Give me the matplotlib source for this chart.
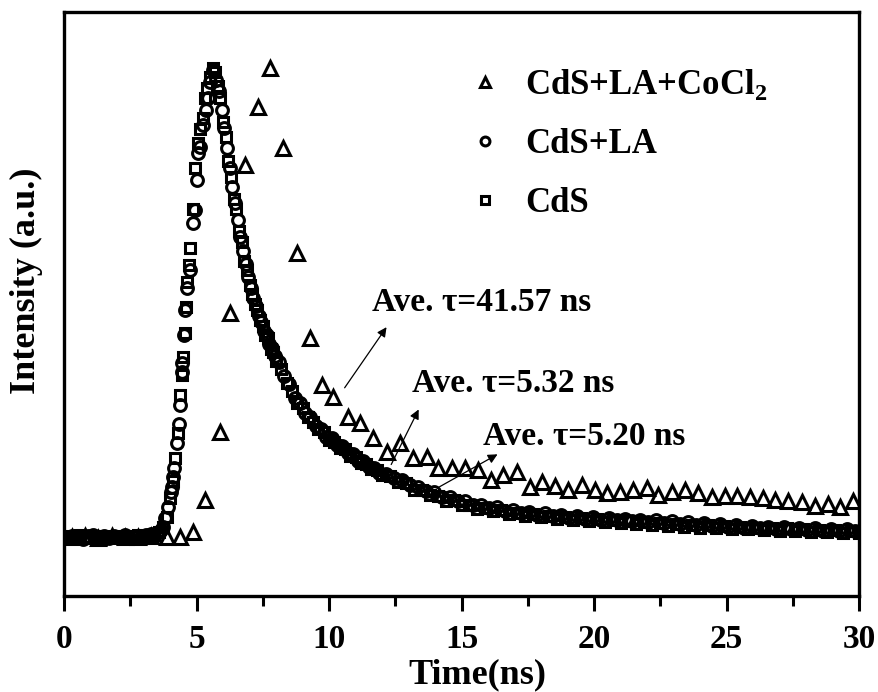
import numpy as np
import matplotlib
matplotlib.use('Agg')
import matplotlib.pyplot as plt
from matplotlib.ticker import MultipleLocator

plt.rcParams['font.family'] = 'Liberation Serif'
plt.rcParams['font.weight'] = 'bold'
plt.rcParams['mathtext.fontset'] = 'custom'
plt.rcParams['mathtext.rm'] = 'Liberation Serif:bold'
plt.rcParams['mathtext.bf'] = 'Liberation Serif:bold'

labels = ['CdS+LA+CoCl$_2$', 'CdS+LA', 'CdS']

# CdS+LA+CoCl2 (triangles)
tri_t = [0.3, 0.8, 1.3, 1.8, 2.3, 2.8, 3.3,
         3.9, 4.38, 4.87, 5.32, 5.89, 6.26, 6.83, 7.32, 7.77, 8.26,
         8.79, 9.28, 9.74, 10.15, 10.72, 11.17, 11.66, 12.19, 12.68, 13.17,
         13.70, 14.11, 14.64, 15.13, 15.62, 16.1, 16.57, 17.09, 17.58, 18.04,
         18.53, 19.02, 19.55, 20.04, 20.49, 20.98, 21.47, 22.0, 22.42, 22.94,
         23.43, 23.92, 24.45, 24.94, 25.4, 25.89, 26.38, 26.83, 27.32, 27.85,
         28.34, 28.83, 29.28, 29.77]
tri_y = [0.0, 0.002, -0.002, 0.001, 0.0, -0.001, 0.002,
         0.0, 0.0, 0.01, 0.079, 0.224, 0.478, 0.793, 0.917, 1.0, 0.829,
         0.606, 0.424, 0.324, 0.299, 0.256, 0.243, 0.211, 0.181, 0.200, 0.168,
         0.171, 0.147, 0.147, 0.147, 0.143, 0.122, 0.132, 0.139, 0.107, 0.117,
         0.109, 0.100, 0.111, 0.100, 0.094, 0.096, 0.100, 0.104, 0.090, 0.096,
         0.100, 0.094, 0.085, 0.087, 0.087, 0.085, 0.083, 0.079, 0.077, 0.075,
         0.066, 0.070, 0.064, 0.077]

# CdS+LA (circles)
cir_t = [0.1, 0.3, 0.5, 0.7, 0.9, 1.1, 1.3, 1.5, 1.7, 1.9, 2.1, 2.3, 2.5, 2.7, 2.9, 3.1, 3.3, 3.5,
         3.65, 3.74, 3.82, 3.92, 4.03, 4.08, 4.11, 4.15, 4.26, 4.33, 4.38, 4.45, 4.47, 4.52,
         4.57, 4.66, 4.75, 4.87, 4.94, 5.0, 5.06, 5.13, 5.25, 5.35, 5.43, 5.52, 5.62,
         5.75, 5.85, 5.95, 6.05, 6.15, 6.25, 6.35, 6.45, 6.55, 6.65, 6.75, 6.85, 6.95,
         7.05, 7.15, 7.25, 7.35, 7.45, 7.55, 7.65, 7.75, 7.85, 7.95,
         8.1, 8.3, 8.5, 8.7, 8.9, 9.1, 9.3, 9.5, 9.7, 9.9,
         10.1, 10.3, 10.5, 10.7, 10.9, 11.1, 11.3, 11.5, 11.7, 11.9,
         12.15, 12.45, 12.75, 13.05, 13.35, 13.65, 13.95, 14.25, 14.55, 14.85,
         15.15, 15.45, 15.75, 16.05, 16.35, 16.65, 16.95, 17.25, 17.55, 17.85,
         18.15, 18.45, 18.75, 19.05, 19.35, 19.65, 19.95, 20.25, 20.55, 20.85,
         21.15, 21.45, 21.75, 22.05, 22.35, 22.65, 22.95, 23.25, 23.55, 23.85,
         24.15, 24.45, 24.75, 25.05, 25.35, 25.65, 25.95, 26.25, 26.55, 26.85,
         27.15, 27.45, 27.75, 28.05, 28.35, 28.65, 28.95, 29.25, 29.55, 29.85]
cir_y = [-0.002, 0.003, 0.0, -0.004, 0.002, 0.004, -0.001, 0.001, -0.003, 0.003, 0.0, 0.004,
         -0.002, 0.001, -0.003, 0.004, 0.006, 0.008,
         0.015, 0.021, 0.04, 0.064, 0.095, 0.107, 0.128, 0.147, 0.2, 0.24, 0.281, 0.352, 0.371, 0.43,
         0.484, 0.53, 0.569, 0.67, 0.697, 0.76, 0.819, 0.832, 0.878, 0.91, 0.936, 0.97, 0.996,
         0.975, 0.95, 0.91, 0.872, 0.83, 0.786, 0.745, 0.712, 0.675, 0.64, 0.61, 0.582, 0.555,
         0.53, 0.51, 0.492, 0.47, 0.458, 0.44, 0.43, 0.412, 0.402, 0.385,
         0.372, 0.342, 0.326, 0.297, 0.286, 0.264, 0.256, 0.236, 0.231, 0.214,
         0.211, 0.195, 0.193, 0.178, 0.176, 0.162, 0.161, 0.148, 0.147, 0.136,
         0.134, 0.126, 0.121, 0.111, 0.107, 0.097, 0.095, 0.086, 0.085, 0.076,
         0.076, 0.068, 0.069, 0.061, 0.063, 0.056, 0.058, 0.051, 0.054, 0.047,
         0.05, 0.044, 0.047, 0.041, 0.045, 0.039, 0.043, 0.037, 0.041, 0.035,
         0.039, 0.033, 0.037, 0.031, 0.035, 0.029, 0.033, 0.027, 0.031, 0.025,
         0.029, 0.023, 0.027, 0.021, 0.026, 0.02, 0.024, 0.018, 0.022, 0.017,
         0.021, 0.016, 0.02, 0.014, 0.018, 0.013, 0.017, 0.012, 0.016, 0.012]

# CdS (squares)
sq_t = [0.0, 0.2, 0.4, 0.6, 0.8, 1.0, 1.2, 1.4, 1.6, 1.8, 2.0, 2.2, 2.4, 2.6, 2.8, 3.0, 3.2, 3.4,
        3.6, 3.75, 3.89, 4.0, 4.1, 4.2, 4.3, 4.38, 4.45, 4.49, 4.55, 4.6, 4.64, 4.7, 4.75,
        4.85, 4.94, 5.05, 5.15, 5.25, 5.32, 5.4, 5.5, 5.62,
        5.7, 5.8, 5.9, 6.0, 6.1, 6.2, 6.3, 6.4, 6.5, 6.6, 6.7, 6.8, 6.9, 7.0,
        7.1, 7.2, 7.3, 7.4, 7.5, 7.6, 7.7, 7.8, 7.9, 8.0,
        8.2, 8.4, 8.6, 8.8, 9.0, 9.2, 9.4, 9.6, 9.8, 10.0,
        10.2, 10.4, 10.6, 10.8, 11.0, 11.2, 11.4, 11.6, 11.8, 12.0,
        12.3, 12.6, 12.9, 13.2, 13.5, 13.8, 14.1, 14.4, 14.7, 15.0,
        15.3, 15.6, 15.9, 16.2, 16.5, 16.8, 17.1, 17.4, 17.7, 18.0,
        18.3, 18.6, 18.9, 19.2, 19.5, 19.8, 20.1, 20.4, 20.7, 21.0,
        21.3, 21.6, 21.9, 22.2, 22.5, 22.8, 23.1, 23.4, 23.7, 24.0,
        24.3, 24.6, 24.9, 25.2, 25.5, 25.8, 26.1, 26.4, 26.7, 27.0,
        27.3, 27.6, 27.9, 28.2, 28.5, 28.8, 29.1, 29.4, 29.7, 30.0]
sq_y = [0.002, -0.003, 0.001, 0.004, -0.002, 0.0, 0.003, -0.004, 0.002, -0.001, 0.003, 0.0,
        -0.003, 0.002, 0.004, -0.002, 0.003, 0.005,
        0.01, 0.022, 0.043, 0.083, 0.12, 0.168, 0.222, 0.303, 0.345, 0.384, 0.435, 0.49, 0.544,
        0.58, 0.616, 0.70, 0.787, 0.84, 0.87, 0.893, 0.936, 0.957, 0.98, 1.0,
        0.99, 0.962, 0.935, 0.884, 0.853, 0.802, 0.768, 0.72, 0.698, 0.652, 0.628, 0.588,
        0.568, 0.536, 0.518, 0.497, 0.483, 0.462, 0.45, 0.43, 0.423, 0.4, 0.395, 0.375,
        0.358, 0.328, 0.31, 0.286, 0.275, 0.255, 0.246, 0.229, 0.223, 0.207,
        0.203, 0.19, 0.187, 0.172, 0.171, 0.157, 0.156, 0.144, 0.143, 0.131,
        0.129, 0.117, 0.115, 0.101, 0.1, 0.089, 0.088, 0.077, 0.078, 0.068,
        0.069, 0.06, 0.062, 0.055, 0.057, 0.049, 0.052, 0.045, 0.048, 0.042,
        0.045, 0.039, 0.042, 0.036, 0.04, 0.034, 0.038, 0.032, 0.036, 0.03,
        0.034, 0.028, 0.032, 0.026, 0.03, 0.024, 0.028, 0.022, 0.026, 0.02,
        0.025, 0.019, 0.023, 0.017, 0.022, 0.016, 0.02, 0.015, 0.019, 0.013,
        0.018, 0.012, 0.016, 0.011, 0.015, 0.01, 0.014, 0.009, 0.013, 0.009]

# lifetime annotations: text, text pos, arrow tail, arrow head
notes = ['Ave. \u03c4=41.57 ns', 'Ave. \u03c4=5.32 ns', 'Ave. \u03c4=5.20 ns']
note_xy = [(11.62, 0.499), (13.13, 0.328), (15.81, 0.213)]
arrow_tail = [(10.53, 0.313), (12.30, 0.149), (14.08, 0.104)]
arrow_head = [(12.23, 0.452), (13.43, 0.277), (16.45, 0.179)]

fig = plt.figure(figsize=(8.79, 6.92), dpi=100)
ax = fig.add_axes([0.0728, 0.1387, 0.9045, 0.844])

h_tri, = ax.plot(tri_t, tri_y, '^', ms=10, mfc='none', mec='black', mew=2.2, ls='none')
h_sq, = ax.plot(sq_t, sq_y, 's', ms=7.5, mfc='none', mec='black', mew=2.2, ls='none')
h_cir, = ax.plot(cir_t, cir_y, 'o', ms=8.5, mfc='none', mec='black', mew=2.2, ls='none')

for txt, xy, tail, head in zip(notes, note_xy, arrow_tail, arrow_head):
    ax.annotate('', xy=head, xytext=tail,
                arrowprops=dict(arrowstyle='-|>', color='black', lw=0.9, mutation_scale=14))
    ax.text(xy[0], xy[1], txt, fontsize=24, fontweight='bold', va='center', ha='left')

leg = ax.legend([h_tri, h_cir, h_sq], labels, loc='upper left', bbox_to_anchor=(0.486, 0.935),
                frameon=False, fontsize=25, handlelength=1.0, handletextpad=0.65,
                labelspacing=0.75, borderpad=0, markerscale=0.75)

ax.set_xlim(0, 30)
ax.set_ylim(-0.126, 1.119)
ax.xaxis.set_major_locator(MultipleLocator(5))
ax.xaxis.set_minor_locator(MultipleLocator(2.5))
ax.set_yticks([])
ax.tick_params(axis='x', which='major', direction='out', length=11, width=2.2,
               labelsize=24, pad=9)
ax.tick_params(axis='x', which='minor', direction='out', length=7, width=2.2)
for sp in ax.spines.values():
    sp.set_linewidth(2.4)

ax.set_xlabel('Time(ns)', fontsize=26, fontweight='bold')
ax.set_ylabel('Intensity (a.u.)', fontsize=26, fontweight='bold')
ax.xaxis.set_label_coords(0.5195, -0.107)
ax.yaxis.set_label_coords(-0.026, 0.539)

fig.savefig('out.png', dpi=100)
